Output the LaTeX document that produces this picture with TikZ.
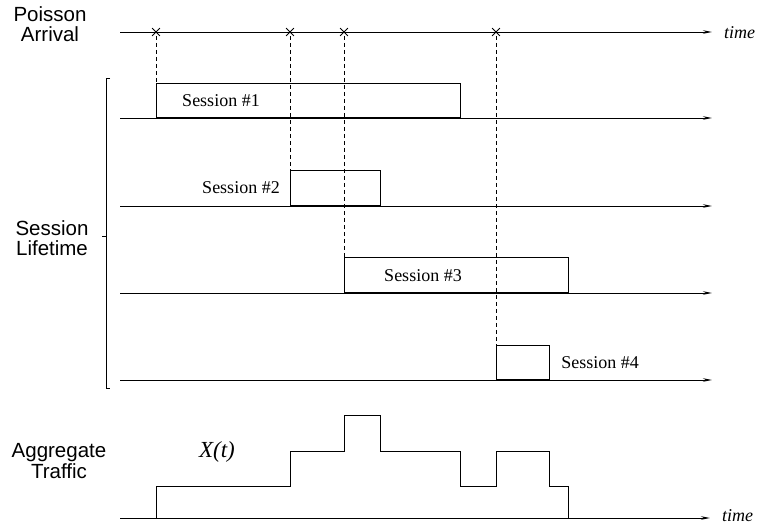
\documentclass[tikz,border=0pt]{standalone}
\usepackage{fontspec}
\setmainfont{Liberation Serif}
\setsansfont{Liberation Sans}
\usetikzlibrary{arrows.meta,shapes.misc}

\begin{document}
\begin{tikzpicture}
    [
    x=1pt,y=-1pt,
    axis/.style={-{Stealth[length=9pt,width=3.5pt]},line width=0.9pt},
    sbox/.style={draw,line width=0.9pt,anchor=south west,inner sep=0pt},
    arrival/.style={cross out,draw,line width=0.8pt,minimum size=7pt,inner sep=0pt},
    drop/.style={dash pattern=on 4pt off 3pt,line width=0.8pt},
    caption/.style={font=\sffamily\fontsize{20.5}{20.5}\selectfont,align=center},
    slabel/.style={font=\fontsize{18}{20}\selectfont},
    timelabel/.style={font=\itshape\fontsize{18}{20}\selectfont,anchor=west,inner sep=0pt}
    ]
\useasboundingbox (0,0) rectangle (758,527);

% left captions
\node[caption] (poisson) at (50,24) {Poisson\\Arrival};
\node[caption] (life) at (52,238) {Session\\Lifetime};
\node[caption] (aggr) at (59,461) {Aggregate\\Traffic};

% arrival axis
\coordinate (p0) at (120,32);
\coordinate (p1) at (712,32);
\draw[axis] (p0) -- (p1);
\node[timelabel] (time1) at (724,33) {time};
\node[arrival] (a1) at (156,32) {};
\node[arrival] (a2) at (290,32) {};
\node[arrival] (a3) at (344,32) {};
\node[arrival] (a4) at (496,32) {};

% session axes
\foreach \i/\y in {1/118,2/206,3/293,4/380}
  \draw[axis] (120,\y) coordinate (l\i) -- (712,\y) coordinate (r\i);

% session boxes
\node[sbox,minimum width=304pt,minimum height=34pt] (s1) at (156,118) {};
\node[sbox,minimum width=90pt,minimum height=35pt] (s2) at (290,206) {};
\node[sbox,minimum width=224pt,minimum height=35pt] (s3) at (344,293) {};
\node[sbox,minimum width=53pt,minimum height=34pt] (s4) at (496,380) {};

\node[slabel] (n1) at (221,101) {Session \#1};
\node[slabel] (n2) at (241,188) {Session \#2};
\node[slabel] (n3) at (423,276) {Session \#3};
\node[slabel] (n4) at (600,363) {Session \#4};

\draw[drop] (a1) -- (s1.north west);
\draw[drop] (a2) -- (s2.north west);
\draw[drop] (a3) -- (s3.north west);
\draw[drop] (a4) -- (s4.north west);

% bracket
\draw[line width=0.9pt] (110,78) -- (106,78) -- (106,388) -- (110,388);
\draw[line width=0.9pt] (106,236) -- (102,236);

% aggregate traffic
\coordinate (g0) at (120,518);
\coordinate (g1) at (710,518);
\draw[axis] (g0) -- (g1);
\node[timelabel] (time2) at (722,516) {time};
\node[font=\itshape\fontsize{23}{24}\selectfont] (xt) at (217,452) {X(t)};
\draw[line width=0.9pt] (156,518) -- (156,486) -- (290,486) -- (290,451) -- (344,451)
  -- (344,415) -- (380,415) -- (380,451) -- (460,451) -- (460,486) -- (496,486)
  -- (496,451) -- (549,451) -- (549,486) -- (568,486) -- (568,518);
\end{tikzpicture}
\end{document}
